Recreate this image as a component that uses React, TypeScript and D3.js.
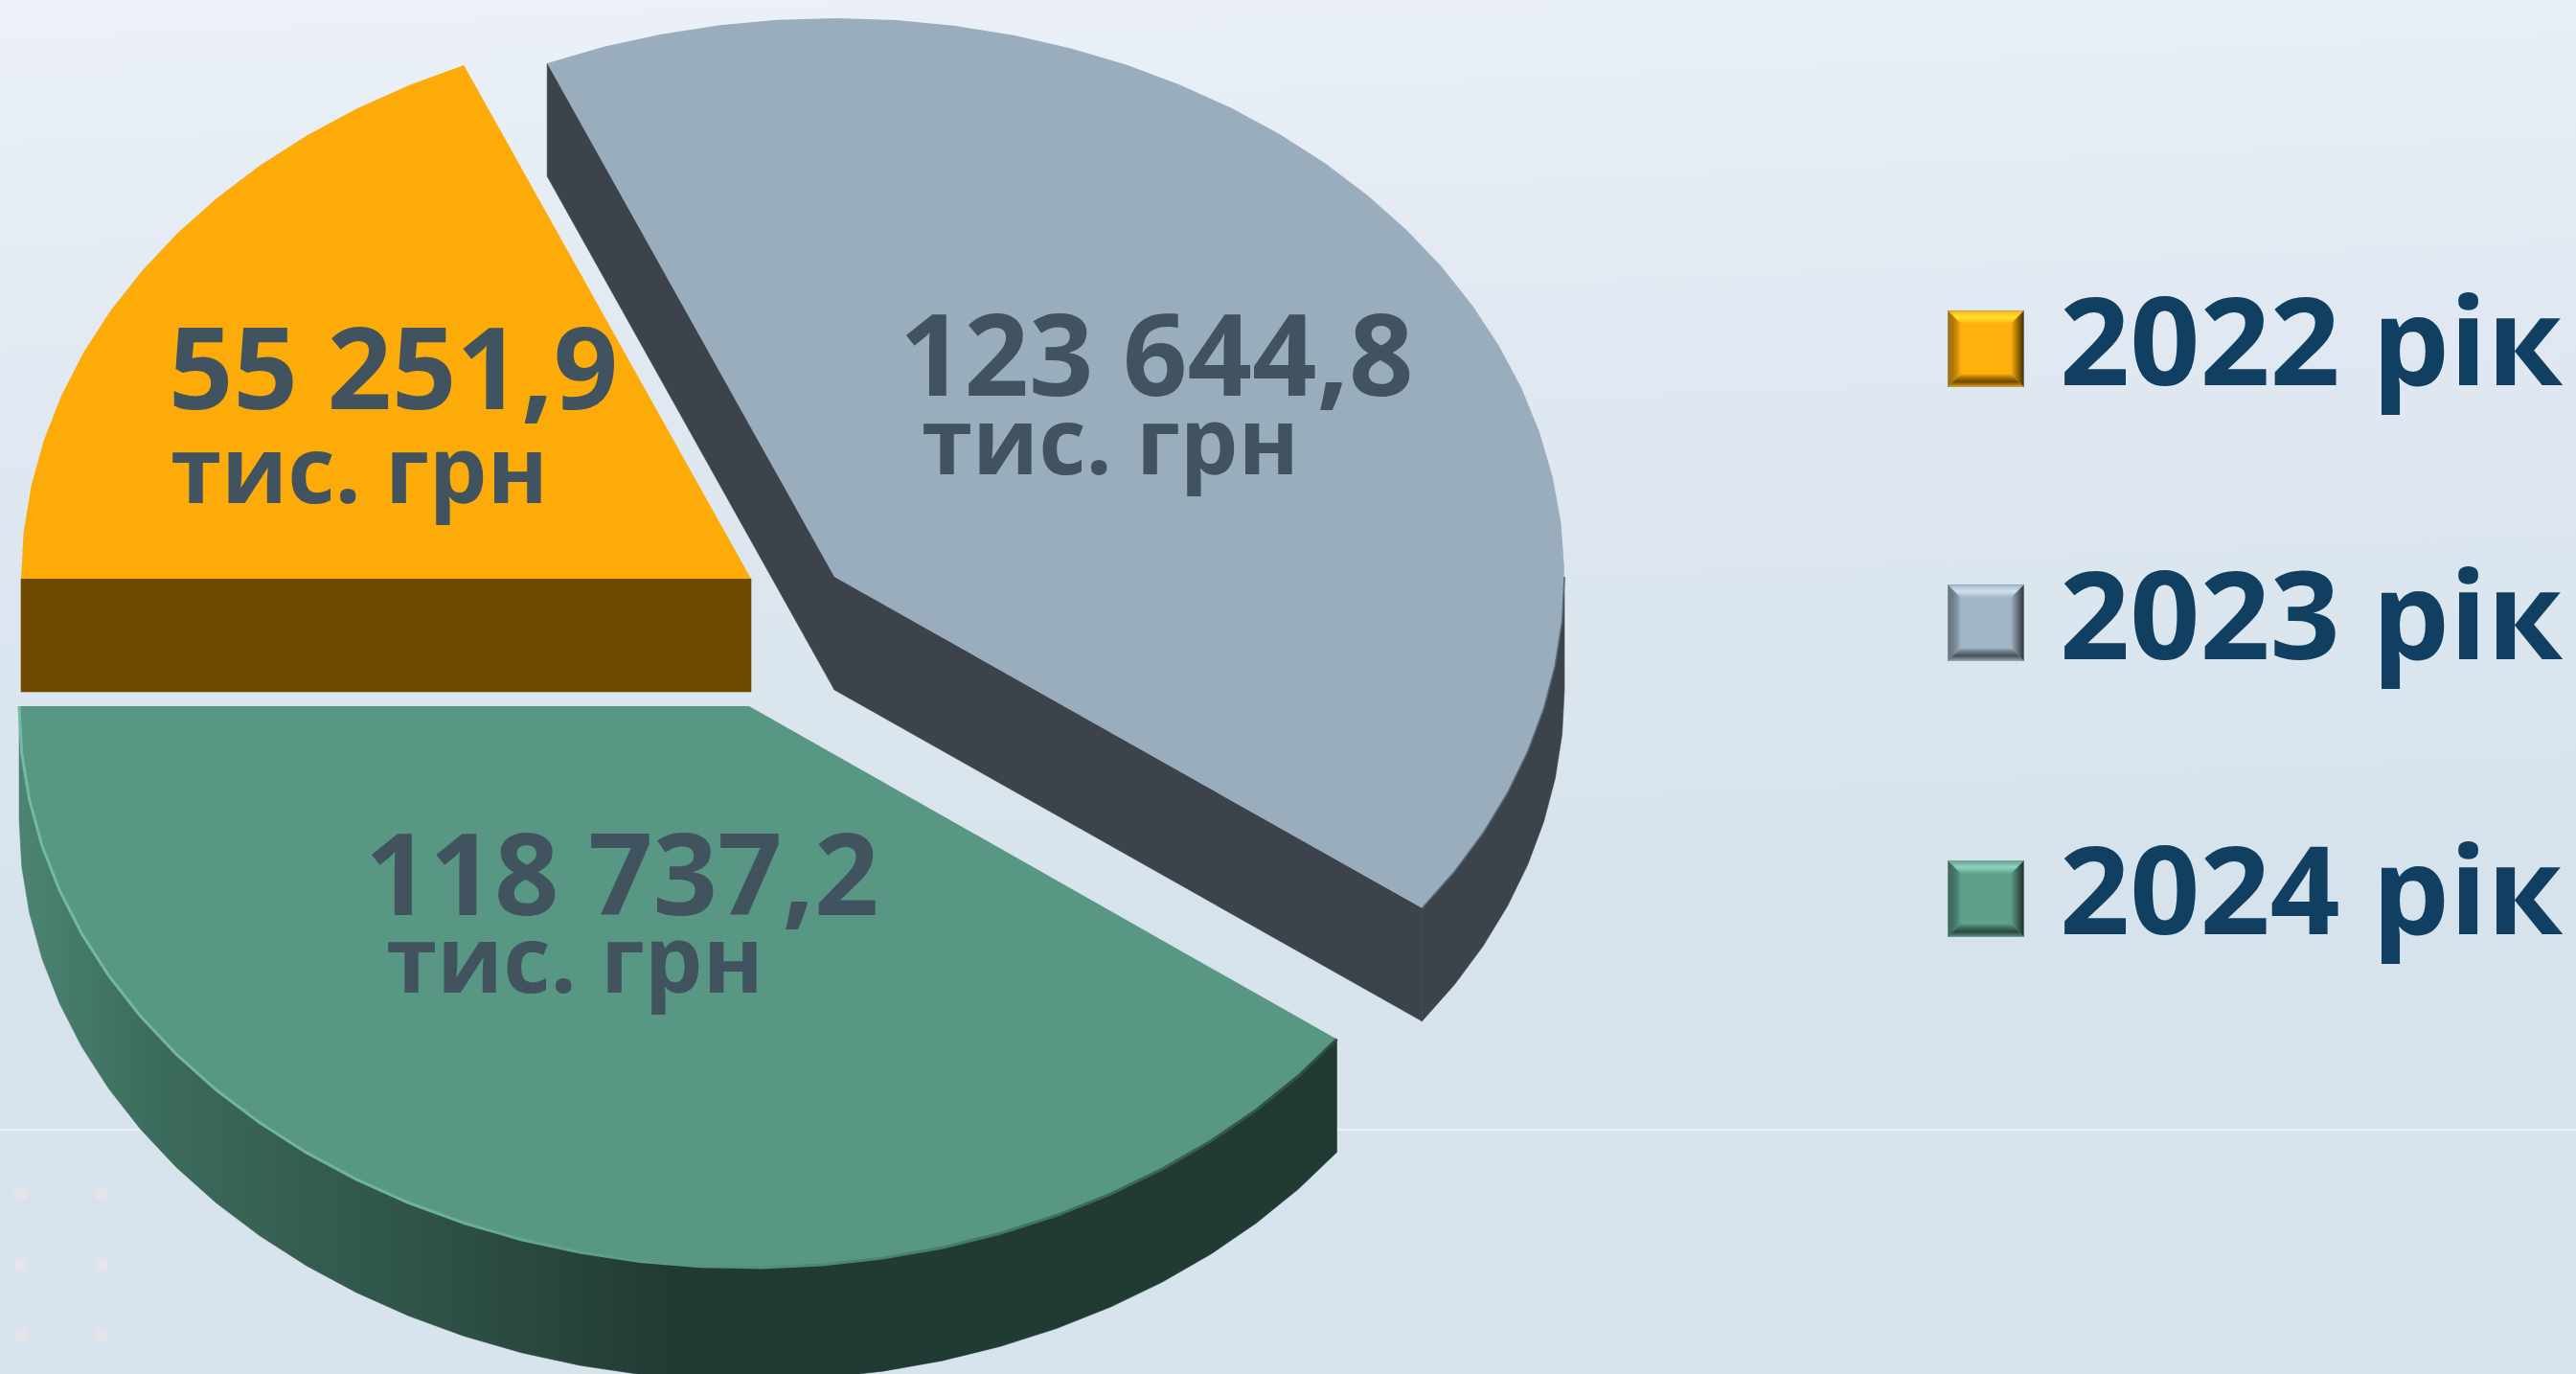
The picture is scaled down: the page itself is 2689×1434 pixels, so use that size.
import React from "react";
import * as d3 from "d3";

const categories = ["2022 рік", "2023 рік", "2024 рік"];
const values = [55251.9, 123644.8, 118737.2];
const valueLabels = ["55 251,9", "123 644,8", "118 737,2"];
const unitLabel = "тис. грн";

const W = 2689, H = 1434;
const RX = 762, DEPTH = 118;
const radiiY = [583, 583, 586];
const centers = [[784, 604], [871, 602], [782, 737]];
const topFill = ["#fdab09", "#9aadbc", "#589783"];
const sideFill = ["#6e4a00", "#3c434b", "url(#greenSide)"];
const swatchBase = ["#ffb00d", "#a2b5c4", "#5f9f8b"];
const swatchLight = ["#ffe22e", "#cfe2f4", "#8fd4bd"];
const swatchDark = ["#3f2a00", "#2b3138", "#1a2d28"];
const swatchY = [324, 610, 898];
const legendBaseline = [402, 688, 975];
const valuePos = [[176, 427], [939, 413], [381, 955]];
const unitPos = [[178, 525], [962, 495], [403, 1036]];
const dotX = [21, 107];
const dotY = [1247, 1320, 1393];
const FACET = (4.8 * Math.PI) / 180;

const pie = d3.pie<number>().sort(null).startAngle(-Math.PI / 2).endAngle((3 * Math.PI) / 2);
const arcs = pie(values);
const line = d3.line();

function pt(i: number, a: number): [number, number] {
  return [centers[i][0] + RX * Math.sin(a), centers[i][1] - radiiY[i] * Math.cos(a)];
}
function arcPts(i: number, a0: number, a1: number): [number, number][] {
  const n = Math.max(2, Math.ceil(Math.abs(a1 - a0) / FACET));
  return d3.range(n + 1).map((k) => pt(i, a0 + ((a1 - a0) * k) / n));
}
function extrude(chain: [number, number][]): string {
  const low = chain.map(([x, y]) => [x, y + DEPTH] as [number, number]).reverse();
  return line([...chain, ...low]) + "Z";
}
function sideChains(i: number): [number, number][][] {
  const { startAngle: s, endAngle: e } = arcs[i];
  const c = centers[i] as [number, number];
  if (i === 0) return [[c, pt(0, s)]];
  if (i === 1) return [[pt(1, s), c], [c, pt(1, e)], arcPts(1, Math.PI / 2, e)];
  return [arcPts(2, s, e)];
}
function topFace(i: number): string {
  const c = centers[i] as [number, number];
  return line([c, ...arcPts(i, arcs[i].startAngle, arcs[i].endAngle)]) + "Z";
}

function Swatch({ i }: { i: number }) {
  const x = 2033, y = swatchY[i], s = 80, b = 14;
  const poly = (p: number[][]) => p.map((q) => q.join(",")).join(" ");
  return (
    <g>
      <rect x={x} y={y} width={s} height={s} fill={swatchBase[i]} />
      <polygon points={poly([[x, y], [x + s, y], [x + s - b, y + b], [x + b, y + b]])} fill={`url(#swT${i})`} />
      <polygon points={poly([[x, y + s], [x + s, y + s], [x + s - b, y + s - b], [x + b, y + s - b]])} fill={`url(#swB${i})`} />
      <polygon points={poly([[x, y], [x + b, y + b], [x + b, y + s - b], [x, y + s]])} fill={`url(#swL${i})`} />
      <polygon points={poly([[x + s, y], [x + s - b, y + b], [x + s - b, y + s - b], [x + s, y + s]])} fill={`url(#swR${i})`} />
      <rect x={x + 0.5} y={y + 0.5} width={s - 1} height={s - 1} fill="none" stroke="#8e9aa0" strokeOpacity={0.6} />
    </g>
  );
}

export default function App() {
  const font = "'Open Sans', sans-serif";
  return (
    <svg width={W} height={H} viewBox={`0 0 ${W} ${H}`} style={{ position: "absolute", left: 0, top: 0, display: "block" }}>
      <defs>
        <linearGradient id="bg" x1="0" y1="0" x2="0.08" y2="1">
          <stop offset="0" stopColor="#ecf1f8" />
          <stop offset="0.3" stopColor="#e0e8f1" />
          <stop offset="0.7" stopColor="#d7e3ec" />
          <stop offset="1" stopColor="#d8e4ed" />
        </linearGradient>
        <linearGradient id="greenSide" gradientUnits="userSpaceOnUse" x1="19" y1="0" x2="1394" y2="0">
          <stop offset="0" stopColor="#4c8472" />
          <stop offset="0.1" stopColor="#3c6c5d" />
          <stop offset="0.35" stopColor="#2c4d43" />
          <stop offset="0.5" stopColor="#213a33" />
          <stop offset="1" stopColor="#213a33" />
        </linearGradient>
        <linearGradient id="greenRim" gradientUnits="userSpaceOnUse" x1="19" y1="0" x2="1394" y2="0">
          <stop offset="0" stopColor="#74b9a3" />
          <stop offset="0.3" stopColor="#6fb39e" />
          <stop offset="0.5" stopColor="#589783" />
          <stop offset="0.8" stopColor="#3c6f60" />
          <stop offset="1" stopColor="#2c4d43" />
        </linearGradient>
        {categories.map((_, i) => (
          <React.Fragment key={i}>
            <linearGradient id={`swT${i}`} x1="0" y1="0" x2="0" y2="1">
              <stop offset="0" stopColor={swatchBase[i]} />
              <stop offset="0.5" stopColor={swatchLight[i]} />
              <stop offset="1" stopColor={swatchBase[i]} />
            </linearGradient>
            <linearGradient id={`swB${i}`} x1="0" y1="0" x2="0" y2="1">
              <stop offset="0" stopColor={swatchBase[i]} />
              <stop offset="0.6" stopColor={swatchDark[i]} stopOpacity={0.75} />
              <stop offset="1" stopColor={swatchBase[i]} />
            </linearGradient>
            <linearGradient id={`swL${i}`} x1="0" y1="0" x2="1" y2="0">
              <stop offset="0" stopColor={swatchDark[i]} stopOpacity={0.45} />
              <stop offset="1" stopColor={swatchBase[i]} />
            </linearGradient>
            <linearGradient id={`swR${i}`} x1="0" y1="0" x2="1" y2="0">
              <stop offset="0" stopColor={swatchBase[i]} />
              <stop offset="1" stopColor={swatchDark[i]} />
            </linearGradient>
          </React.Fragment>
        ))}
      </defs>
      <rect width={W} height={H} fill="url(#bg)" />
      <line x1={0} x2={W} y1={1179} y2={1179} stroke="#f4f7fa" strokeWidth={1.5} />
      {dotX.flatMap((x) => dotY.map((y) => <circle key={`${x}-${y}`} cx={x} cy={y} r={7} fill="#e4e4ea" />))}

      {arcs.map((_, i) =>
        sideChains(i).map((chain, k) => (
          <path key={`s${i}-${k}`} d={extrude(chain)} fill={sideFill[i]} stroke={sideFill[i]} strokeWidth={0.6} />
        ))
      )}
      {arcs.map((_, i) => (
        <path key={`t${i}`} d={topFace(i)} fill={topFill[i]} />
      ))}
      <path d={line(arcPts(2, arcs[2].startAngle, arcs[2].endAngle)) as string} fill="none" stroke="url(#greenRim)" strokeWidth={3} />
      <path d={line(arcPts(1, Math.PI / 2, arcs[1].endAngle)) as string} fill="none" stroke="#5d6b77" strokeWidth={1.5} />

      {valueLabels.map((t, i) => (
        <text key={t} x={valuePos[i][0]} y={valuePos[i][1]} fontFamily={font} fontWeight={700} fontSize={118} fill="#40535f">
          {t}
        </text>
      ))}
      {valueLabels.map((t, i) => (
        <text key={t + "u"} x={unitPos[i][0]} y={unitPos[i][1]} fontFamily={font} fontWeight={700} fontSize={96} fill="#40535f">
          {unitLabel}
        </text>
      ))}

      {categories.map((c, i) => (
        <g key={c}>
          <Swatch i={i} />
          <text x={2150} y={legendBaseline[i]} fontFamily={font} fontWeight={700} fontSize={128} fill="#103f61">
            {c}
          </text>
        </g>
      ))}
    </svg>
  );
}
